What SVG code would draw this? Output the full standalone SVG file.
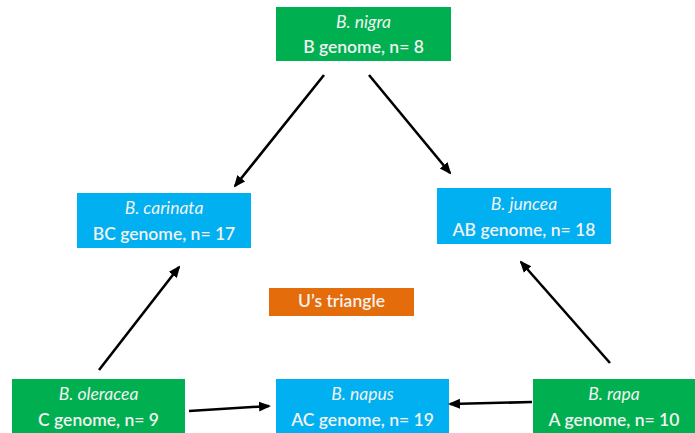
<svg xmlns="http://www.w3.org/2000/svg" width="695" height="433" viewBox="0 0 695 433">
<style>
.g{fill:#00B050}
.b{fill:#00B0F0}
.o{fill:#E46C0A}
text{font-family:Lato,"Open Sans","Liberation Sans",sans-serif;font-size:17.5px;font-weight:600;fill:#F2F2F2;text-anchor:middle}
.i{font-style:italic;font-weight:normal}
.c line{stroke:#000;stroke-width:2.6;marker-end:url(#ah)}
</style>
<defs>
<marker id="ah" markerUnits="userSpaceOnUse" markerWidth="12" markerHeight="12" viewBox="0 0 12 12" refX="10" refY="6" orient="auto">
<path d="M0,1 L12,6 L0,11 Z" fill="#000"/>
</marker>
</defs>
<rect width="695" height="433" fill="#fff"/>
<g id="nigra"><rect class="g" x="276" y="7" width="175" height="54"/><text class="i" x="363.5" y="28">B. nigra</text><text x="363.5" y="53">B genome, n= 8</text></g>
<g id="carinata"><rect class="b" x="77" y="193" width="174" height="55"/><text class="i" x="164" y="214">B. carinata</text><text x="164" y="240">BC genome, n= 17</text></g>
<g id="juncea"><rect class="b" x="437" y="188" width="174" height="56"/><text class="i" x="524" y="210">B. juncea</text><text x="524" y="236">AB genome, n= 18</text></g>
<g id="triangle"><rect class="o" x="269" y="288" width="145" height="28"/><text x="341.5" y="307">U’s triangle</text></g>
<g id="oleracea"><rect class="g" x="12" y="379" width="173" height="54"/><text class="i" x="98.5" y="400">B. oleracea</text><text x="98.5" y="426">C genome, n= 9</text></g>
<g id="napus"><rect class="b" x="276" y="379" width="173" height="54"/><text class="i" x="362.5" y="400">B. napus</text><text x="362.5" y="426">AC genome, n= 19</text></g>
<g id="rapa"><rect class="g" x="533" y="379" width="162" height="54"/><text class="i" x="614" y="400">B. rapa</text><text x="614" y="426">A genome, n= 10</text></g>
<g class="c" id="connectors">
<line x1="324" y1="75" x2="235" y2="186"/>
<line x1="369" y1="75" x2="450" y2="173"/>
<line x1="99" y1="370" x2="179" y2="267"/>
<line x1="610" y1="363" x2="521" y2="262"/>
<line x1="189" y1="411" x2="269" y2="406"/>
<line x1="532" y1="402" x2="450" y2="404"/>
</g>
</svg>
